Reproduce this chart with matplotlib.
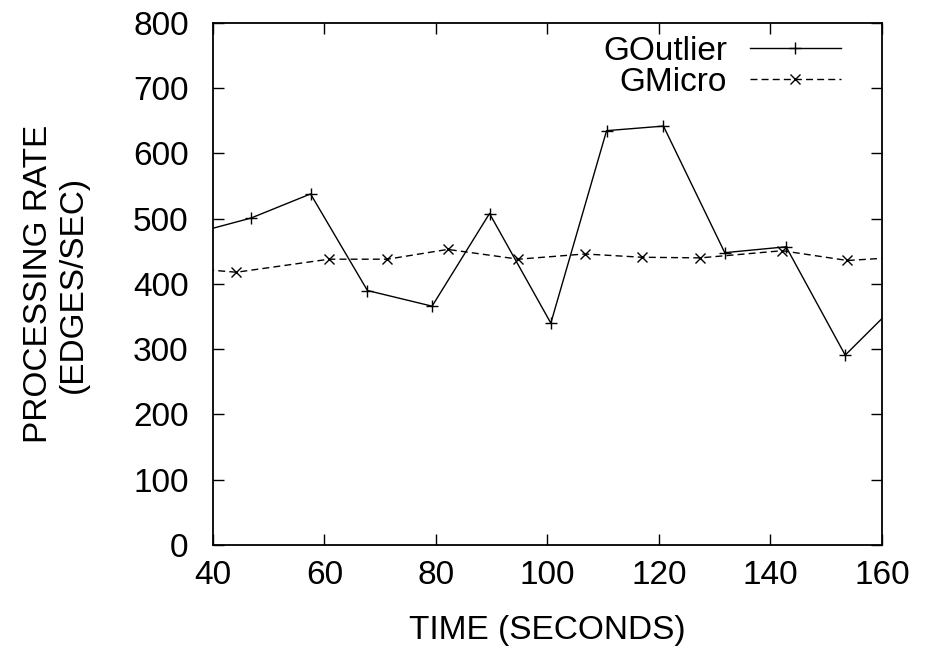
import matplotlib
matplotlib.use('Agg')
import matplotlib.pyplot as plt

plt.rcParams['font.family'] = ['Liberation Sans', 'DejaVu Sans']

# values (time in seconds, rate in edges/sec)
outlier_time = [36.3, 46.8, 57.5, 67.7, 79.3, 89.6, 100.6, 110.6, 120.8, 131.8, 142.8, 153.4, 164.0]
outlier_rate = [477, 501, 538, 390, 366, 508, 340, 635, 642, 448, 457, 291, 381]

micro_time = [33.0, 44.2, 60.8, 71.3, 82.1, 94.8, 106.7, 116.9, 127.4, 142.1, 153.8, 165.0]
micro_rate = [426, 418, 438, 438, 453, 438, 446, 441, 440, 451, 436, 442]

x_ticks = [40, 60, 80, 100, 120, 140, 160]
y_ticks = [0, 100, 200, 300, 400, 500, 600, 700, 800]

FS = 24

fig = plt.figure(figsize=(9.35, 6.48), dpi=100)
ax = fig.add_axes([0.2278, 0.159, 0.7155, 0.8055])

ax.plot(outlier_time, outlier_rate, color='black', lw=1.0, marker='+', ms=8,
        mew=1.0, label='GOutlier')
ax.plot(micro_time, micro_rate, color='black', lw=1.0, marker='x', ms=7,
        mew=1.0, dashes=(5, 3), label='GMicro')

ax.set_xlim(40, 160)
ax.set_ylim(0, 800)
ax.set_xticks(x_ticks)
ax.set_yticks(y_ticks)
ax.tick_params(direction='in', length=8, width=1.0, labelsize=FS,
               top=True, right=True)
ax.tick_params(axis='x', pad=11)
ax.tick_params(axis='y', pad=17.5)
for s in ax.spines.values():
    s.set_linewidth(1.3)

ax.set_xlabel('TIME (SECONDS)', fontsize=FS, labelpad=17)
ax.set_ylabel('PROCESSING RATE\n(EDGES/SEC)', fontsize=FS, labelpad=32,
              linespacing=1.15)

# gnuplot-style key: label on the left, sample on the right
ax.legend(loc='upper right', bbox_to_anchor=(0.9387, 0.975), frameon=False,
          markerfirst=False, fontsize=FS, handlelength=2.73, handletextpad=0.69,
          labelspacing=0.0, borderpad=0, borderaxespad=0)

fig.savefig('out.png', dpi=100)
